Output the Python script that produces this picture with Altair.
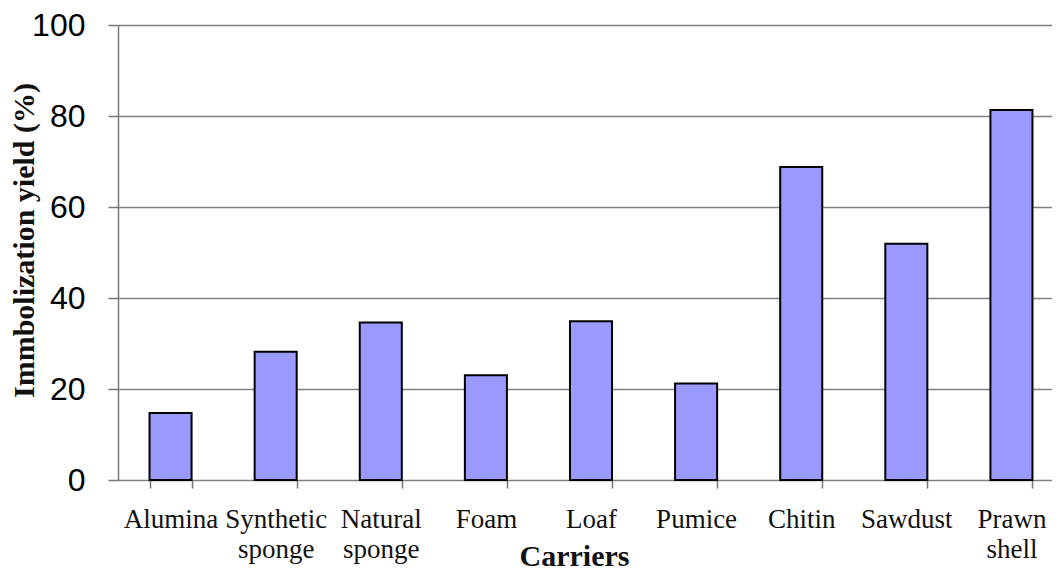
import altair as alt
import pandas as pd

carriers = ["Alumina", "Synthetic sponge", "Natural sponge", "Foam", "Loaf",
            "Pumice", "Chitin", "Sawdust", "Prawn shell"]
yields = [14.7, 28.2, 34.6, 23.0, 34.9, 21.2, 68.8, 51.9, 81.3]
y_ticks = [0, 20, 40, 60, 80, 100]

df = pd.DataFrame({"carrier": carriers, "yield": yields})

chart = alt.Chart(df).mark_bar(
    fill="#9999ff", stroke="#000000", strokeWidth=2
).encode(
    x=alt.X("carrier:N", sort=carriers,
            scale=alt.Scale(paddingInner=0.6, paddingOuter=0.3, range=[0, 946]),
            axis=alt.Axis(title="Carriers", labelAngle=0,
                          labelExpr="split(datum.label, ' ')",
                          labelFont="Liberation Serif", labelFontSize=27,
                          labelColor="#111111", labelLineHeight=30,
                          labelPadding=18, tickBand="extent",
                          tickSize=8, tickColor="#777777", tickWidth=1.5,
                          domain=False, grid=False,
                          titleFont="Liberation Serif", titleFontSize=30,
                          titleFontWeight="bold", titleColor="#111111",
                          titleX=456, titleY=85, titleBaseline="alphabetic",
                          titleAlign="center")),
    y=alt.Y("yield:Q", scale=alt.Scale(domain=[0, 100], nice=False),
            axis=alt.Axis(title="Immbolization yield (%)", values=y_ticks,
                          labelFont="Liberation Sans", labelFontSize=32,
                          labelColor="#000000", labelPadding=23,
                          tickSize=10, tickColor="#777777", tickWidth=1.5,
                          domainColor="#777777", domainWidth=1.5,
                          gridColor="#808080", gridWidth=1.5, gridOpacity=1,
                          titleFont="Liberation Serif", titleFontSize=30,
                          titleFontWeight="bold", titleColor="#111111",
                          titleAngle=-90, titleX=-85, titleY=215,
                          titleBaseline="alphabetic", titleAlign="center")),
).properties(
    width=934, height=455,
    autosize=alt.AutoSizeParams(type="none"),
    padding={"left": 110, "top": 17, "right": 0, "bottom": 94},
).configure_view(stroke=None).configure(background="white")

chart.save("out.html", embed_options={"renderer": "svg", "actions": False})
